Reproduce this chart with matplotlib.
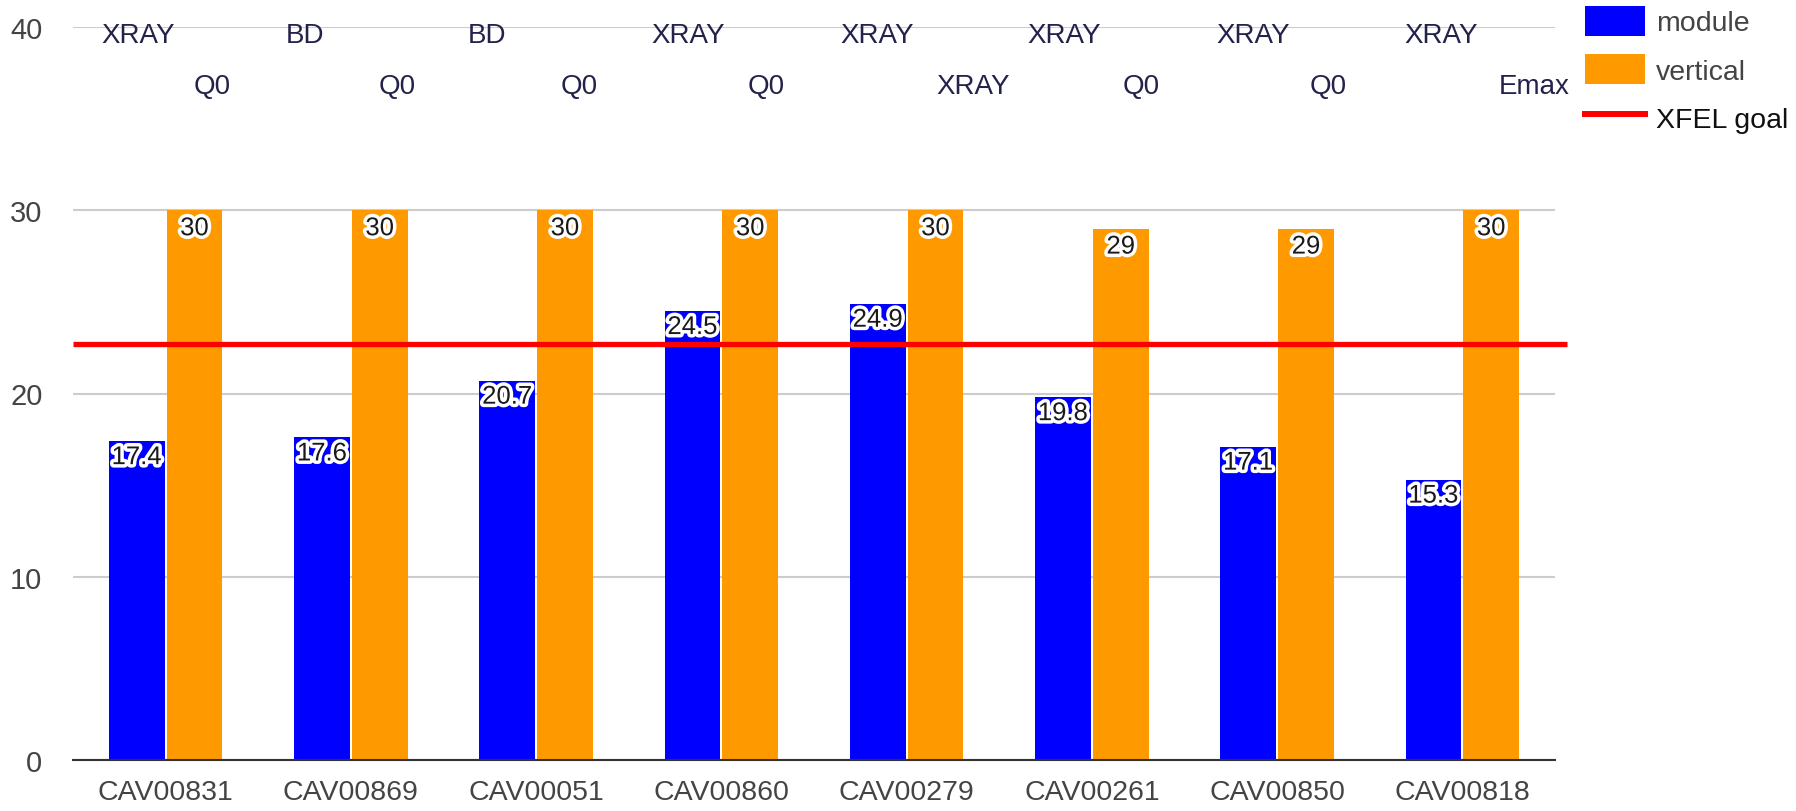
import numpy as np
import matplotlib.pyplot as plt
from matplotlib.patches import Patch
from matplotlib.lines import Line2D
import matplotlib.patheffects as pe

plt.rcParams['font.family'] = ['Liberation Sans', 'DejaVu Sans']

cavities = ['CAV00831', 'CAV00869', 'CAV00051', 'CAV00860',
            'CAV00279', 'CAV00261', 'CAV00850', 'CAV00818']
module = [17.4, 17.6, 20.7, 24.5, 24.9, 19.8, 17.1, 15.3]
vertical = [30, 30, 30, 30, 30, 29, 29, 30]
xfel_goal = 22.7

# limiting reason per cavity: module test (upper row), vertical test (lower row)
module_limit = ['XRAY', 'BD', 'BD', 'XRAY', 'XRAY', 'XRAY', 'XRAY', 'XRAY']
vertical_limit = ['Q0', 'Q0', 'Q0', 'Q0', 'XRAY', 'Q0', 'Q0', 'Emax']
module_limit_x = [-0.15, 0.75, 1.735, 2.82, 3.84, 4.85, 5.87, 6.885]
vertical_limit_x = [0.25, 1.25, 2.23, 3.24, 4.36, 5.265, 6.275, 7.39]


def main():
    fig = plt.figure(figsize=(17.96, 8.12), dpi=100)
    ax = fig.add_axes([73 / 1796, 51 / 812, 1482 / 1796, 733 / 812])

    x = np.arange(len(cavities))
    w = 0.3
    ax.bar(x - 0.156, module, w, color='#0000ff', zorder=2)
    ax.bar(x + 0.156, vertical, w, color='#ff9900', zorder=2)

    halo = [pe.withStroke(linewidth=5, foreground='white')]
    for xi, v in zip(x, module):
        ax.annotate(f'{v:g}', (xi - 0.156, v), xytext=(0, -4),
                    textcoords='offset pixels', ha='center', va='top',
                    fontsize=18.5, color='#1a1a1a', path_effects=halo, zorder=4)
    for xi, v in zip(x, vertical):
        ax.annotate(f'{v:g}', (xi + 0.156, v), xytext=(0, -6),
                    textcoords='offset pixels', ha='center', va='top',
                    fontsize=18.5, color='#1a1a1a', path_effects=halo, zorder=4)

    ax.plot([-0.5, 7.565], [xfel_goal, xfel_goal], color='#ff0000', lw=3.8,
            zorder=3, clip_on=False, solid_capstyle='butt')

    for xi, s in zip(module_limit_x, module_limit):
        ax.text(xi, 39.18, s, ha='center', va='baseline', fontsize=20,
                color='#22224a', zorder=5, clip_on=False)
    for xi, s in zip(vertical_limit_x, vertical_limit):
        ax.text(xi, 36.4, s, ha='center', va='baseline', fontsize=20,
                color='#22224a', zorder=5, clip_on=False)

    ax.set_xlim(-0.5, 7.5)
    ax.set_ylim(0, 40)
    ax.set_yticks([0, 10, 20, 30, 40])
    ax.set_xticks(x)
    ax.set_xticklabels(cavities)
    ax.tick_params(axis='both', length=0, labelcolor='#444444')
    ax.tick_params(axis='x', pad=14, labelsize=20.5)
    ax.tick_params(axis='y', pad=22, labelsize=21)
    ax.grid(axis='y', color='#cccccc', lw=1.5, zorder=0)
    for side in ['top', 'right', 'left']:
        ax.spines[side].set_visible(False)
    ax.spines['bottom'].set_color('#333333')
    ax.spines['bottom'].set_linewidth(1.5)
    ax.spines['bottom'].set_zorder(3)

    handles = [Patch(facecolor='#0000ff', label='module'),
               Patch(facecolor='#ff9900', label='vertical'),
               Line2D([], [], color='#ff0000', lw=4.3, label='XFEL goal')]
    leg = ax.legend(handles=handles, loc='upper left',
                    bbox_to_anchor=(1585 / 1796, 805 / 812),
                    bbox_transform=fig.transFigure, frameon=False,
                    fontsize=20.5, borderpad=0, borderaxespad=0,
                    handlelength=2.1, handleheight=1.23, handletextpad=0.4,
                    labelspacing=0.62)
    for t, c in zip(leg.get_texts(), ['#444444', '#444444', '#111111']):
        t.set_color(c)

    fig.savefig('out.png', dpi=100)


if __name__ == '__main__':
    main()
